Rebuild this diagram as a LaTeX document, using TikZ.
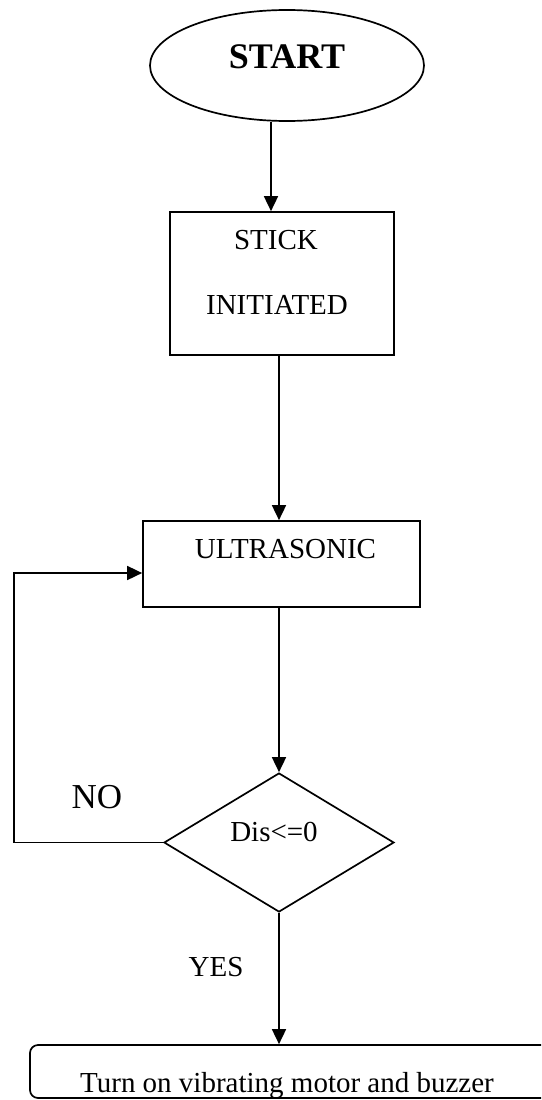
\documentclass[tikz,border=0pt]{standalone}
\usepackage{fontspec}
\setmainfont{Liberation Serif}
\usetikzlibrary{shapes.geometric,arrows.meta}
\begin{document}
\begin{tikzpicture}[x=1pt,y=-1pt,
  line width=1.7pt,
  arr/.style={-{Triangle[length=15pt,width=14pt]}},
  txt/.style={font=\fontsize{29}{35}\selectfont, inner sep=0pt},
  boxstyle/.style={draw, rectangle, inner sep=0pt},
]
\useasboundingbox (0,0) rectangle (541,1100);
\clip (0,0) rectangle (541,1100);
% start ellipse
\node[draw, ellipse, minimum width=274, minimum height=111, inner sep=0pt,
      font=\fontsize{36}{40}\selectfont\bfseries] (start) at (287,65.5) {};
\node[font=\fontsize{36}{40}\selectfont\bfseries, inner sep=0pt] (startt) at (287,57) {START};
% stick box
\node[boxstyle, minimum width=224, minimum height=143] (stick) at (282,283.5) {};
\node[txt] (stickt1) at (276,240) {STICK};
\node[txt] (stickt2) at (277,305) {INITIATED};
% ultrasonic box
\node[boxstyle, minimum width=277, minimum height=86] (ultra) at (281.5,564) {};
\node[txt] (ultrat) at (285.5,549) {ULTRASONIC};
% decision
\node[draw, diamond, minimum width=230, minimum height=139, inner sep=0pt] (dec) at (279,842.5) {};
\node[txt] (dect) at (274,832) {Dis<=0};
% final box
\node[draw, rectangle, rounded corners=8pt, minimum width=540, minimum height=53, inner sep=0pt] (turn) at (300,1071.5) {};
\node[txt, anchor=base] (turnt) at (287,1092) {Turn on vibrating motor and buzzer};
% labels
\node[font=\fontsize{35}{40}\selectfont, inner sep=0pt] (no) at (97,797) {NO};
\node[txt] (yes) at (216,967) {YES};
% connectors
\draw[arr] ([xshift=-16pt]start.south) -- ([xshift=-16pt]start.south |- stick.north);
\draw[arr] (stick.south -| dec.north) -- (dec.north |- ultra.north);
\draw[arr] (ultra.south -| dec.north) -- (dec.north);
\draw[arr] (dec.south) -- (dec.south |- turn.north);
\coordinate (loopin) at ([yshift=-9pt]ultra.west);
\draw[arr] (dec.west) -- (14,842.5) |- (loopin);
\end{tikzpicture}
\end{document}
